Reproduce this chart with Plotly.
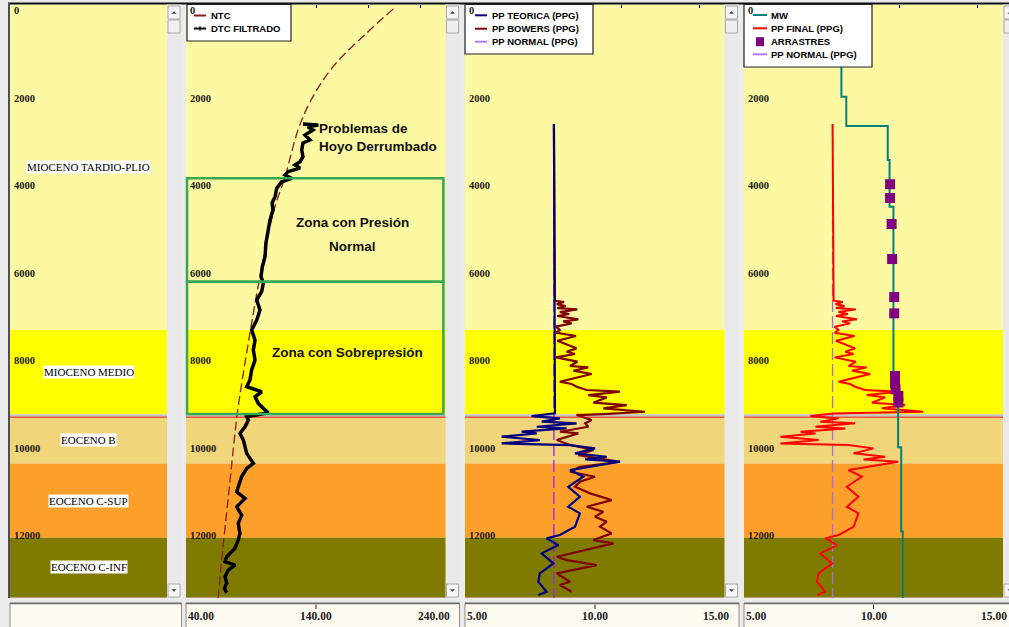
import plotly.graph_objects as go

W, H = 1009, 627

# ---------------- depth axis (ft) ----------------
depth_max = 13570
depth_ticks = [0, 2000, 4000, 6000, 8000, 10000, 12000]

# ---------------- formations ----------------
form_names = ["MIOCENO TARDIO-PLIO", "MIOCENO MEDIO", "", "EOCENO B", "EOCENO C-SUP", "EOCENO C-INF", ""]
form_top = [0, 7443, 9371, 9430, 10500, 12193, 13545]
form_base = [7443, 9371, 9430, 10500, 12193, 13545, 13570]
form_colors = ["#FDF9A3", "#FFFF00", "#C6C6C6", "#F0D57B", "#FDA02B", "#7F7B00", "#B79E70"]
contact_depth = 9440

# ---------------- track 2: sonic (us/ft) ----------------
ntc_depth = [100, 652, 1422, 2184, 2870, 3938, 4699, 6225, 7741, 9273, 9799, 11331, 12856, 13570]
ntc_dt = [199.5, 179.0, 153.1, 136.2, 126.2, 116.2, 107.7, 96.9, 87.9, 79.8, 77.7, 72.3, 66.9, 64.8]

dtc_depth = [2733, 2756, 2794, 2870, 2984, 3098, 3167, 3327, 3480, 3595, 3670, 3739, 3823, 3899,
             3974, 4052, 4203, 4395, 4539, 4699, 4928, 5157, 5454, 5767, 5996, 6224, 6368, 6567,
             6757, 6986, 7215, 7443, 7672, 7901, 8129, 8358, 8587, 8740, 8854, 8969, 9120, 9234,
             9334, 9426, 9501, 9655, 9805, 9959, 10112, 10263, 10377, 10492, 10606, 10798, 11027,
             11141, 11292, 11484, 11674, 11863, 12092, 12245, 12435, 12627, 12741, 12817, 12931,
             13085, 13236, 13350, 13450]
dtc_dt = [130.0, 141.8, 133.8, 137.7, 131.5, 135.4, 130.0, 129.0, 130.0, 127.7, 123.8, 127.7, 118.5,
          116.2, 121.3, 113.6, 109.8, 108.5, 106.2, 106.9, 104.6, 103.1, 101.5, 100.8, 98.7, 97.7,
          99.5, 98.2, 94.4, 96.9, 94.4, 90.5, 93.1, 91.8, 93.1, 90.5, 89.2, 86.7, 98.2, 93.1, 95.6,
          99.5, 103.3, 86.7, 88.0, 85.4, 81.5, 84.1, 85.4, 86.7, 89.2, 91.8, 86.7, 82.8, 80.2, 79.0,
          85.4, 79.0, 82.8, 80.2, 81.5, 80.2, 77.7, 71.3, 70.0, 77.7, 72.5, 70.0, 71.3, 69.5, 71.3]

zone_tops = [3974, 6339]
zone_bases = [6339, 9364]

# ---------------- track 3: pore pressure (ppg) ----------------
pp_normal = 8.42
pp_start = 2733

bowers_depth = [6773, 6803, 6849, 6894, 6940, 6971, 7032, 7077, 7123, 7199, 7245, 7291, 7367, 7443,
                7504, 7580, 7687, 7862, 7938, 7992, 8068, 8167, 8266, 8297, 8373, 8449, 8625, 8678,
                8739, 8815, 8853, 8930, 8983, 9105, 9158, 9234, 9311, 9364, 9387, 9502, 9577, 9654,
                9768, 9806, 9959, 10073, 10187, 10302, 10378, 10454, 10568, 10683, 10797, 10911,
                11026, 11178, 11331, 11483, 11597, 11712, 11826, 11941, 12093, 12245, 12322, 12626,
                12703, 12817, 13008, 13198, 13274, 13427]
bowers_ppg = [8.46, 8.81, 8.53, 8.88, 8.55, 9.32, 8.65, 9.01, 8.55, 9.36, 8.78, 9.10, 8.50, 8.65,
              8.50, 9.27, 8.55, 9.29, 8.91, 9.23, 8.50, 9.32, 9.04, 9.74, 9.17, 9.87, 8.65, 9.10,
              9.29, 9.68, 10.96, 9.74, 10.45, 9.94, 11.22, 10.32, 11.92, 10.32, 9.29, 9.87, 9.62,
              9.74, 8.65, 9.36, 8.53, 9.04, 9.94, 9.36, 10.19, 10.96, 9.42, 9.04, 10.00, 9.42, 9.23,
              9.81, 10.64, 9.68, 10.32, 10.00, 10.45, 10.19, 10.64, 9.94, 10.71, 8.53, 8.91, 10.06,
              8.53, 9.04, 8.65, 9.10]

teorica_depth = [9349, 9410, 9463, 9539, 9577, 9654, 9692, 9768, 9806, 9882, 9959, 10035, 10073,
                 10149, 10263, 10340, 10401, 10454, 10645, 10797, 11026, 11254, 11483, 11636, 11941,
                 12131, 12207, 12360, 12550, 12779, 13008, 13198, 13427, 13503]
teorica_ppg = [8.46, 7.56, 8.65, 7.95, 9.29, 7.76, 8.91, 7.18, 7.76, 6.41, 7.88, 6.41, 9.04, 10.00,
               9.23, 10.45, 9.62, 10.96, 9.04, 9.55, 8.97, 9.42, 8.97, 9.42, 9.23, 8.65, 8.14, 8.59,
               7.95, 8.40, 7.88, 7.82, 8.14, 7.82]

# ---------------- track 4: mud weight & drag events ----------------
mw_top = [0, 2108, 2778, 3556, 4624, 8815, 10125, 12050]
mw_ppg = [8.76, 8.95, 10.55, 10.62, 10.77, 10.95, 11.07, 11.13]
arr_depth = [4112, 4425, 5019, 5820, 6689, 7062, 8495, 8650, 8800, 8950, 9100]
arr_ppg = [10.64, 10.64, 10.70, 10.72, 10.80, 10.80, 10.83, 10.83, 10.85, 10.96, 10.96]

split_depth = 9340  # PP FINAL: Bowers above, theoretical below

# ---------------- layout helpers (pixel -> paper) ----------------
def X(px):
    return px / W


def Y(py):
    return 1 - py / H


TOP, BOT = 4.5, 598
panels = [(10, 167), (186, 446), (465, 725), (744, 1003)]
xranges = [[0, 1], [40, 240], [5, 15], [5, 15]]
top_ticks = [[], [60, 100, 140, 180, 220], [8, 11, 14], [8, 11, 14]]

SERIF = "Liberation Serif, Times New Roman, serif"
SANS = "Liberation Sans, Arial, sans-serif"

fig = go.Figure()

# ---- track 2 curves ----
fig.add_trace(go.Scatter(x=ntc_dt, y=ntc_depth, mode="lines", line_shape="spline",
                         line=dict(color="#8E1A1A", width=1.3, dash="9px,4px"),
                         xaxis="x2", yaxis="y2", showlegend=False))
fig.add_trace(go.Scatter(x=dtc_dt, y=dtc_depth, mode="lines",
                         line=dict(color="#000000", width=3.5),
                         xaxis="x2", yaxis="y2", showlegend=False))

# ---- track 3 curves ----
fig.add_trace(go.Scatter(x=[pp_normal, pp_normal], y=[pp_start, depth_max], mode="lines",
                         line=dict(color="#A020F0", width=1.3, dash="12px,4px"),
                         xaxis="x3", yaxis="y3", showlegend=False))
fig.add_trace(go.Scatter(x=[pp_normal] + bowers_ppg, y=[pp_start] + bowers_depth, mode="lines",
                         line=dict(color="#800000", width=2.2),
                         xaxis="x3", yaxis="y3", showlegend=False))
fig.add_trace(go.Scatter(x=[pp_normal] + teorica_ppg, y=[pp_start] + teorica_depth, mode="lines",
                         line=dict(color="#000080", width=2.2),
                         xaxis="x3", yaxis="y3", showlegend=False))

# ---- track 4 curves ----
final_depth = [pp_start] + [d for d in bowers_depth if d < split_depth] + \
              [d for d in teorica_depth if d >= split_depth]
final_ppg = [pp_normal] + [v for d, v in zip(bowers_depth, bowers_ppg) if d < split_depth] + \
            [v for d, v in zip(teorica_depth, teorica_ppg) if d >= split_depth]

fig.add_trace(go.Scatter(x=[pp_normal, pp_normal], y=[pp_start, depth_max], mode="lines",
                         line=dict(color="#A874C8", width=1.3, dash="12px,4px"),
                         xaxis="x4", yaxis="y4", showlegend=False))
fig.add_trace(go.Scatter(x=final_ppg, y=final_depth, mode="lines",
                         line=dict(color="#FF0000", width=2.0),
                         xaxis="x4", yaxis="y4", showlegend=False))

mw_x, mw_y = [], []
for i, v in enumerate(mw_ppg):
    base = mw_top[i + 1] if i + 1 < len(mw_top) else depth_max
    mw_x += [v, v]
    mw_y += [mw_top[i], base]
fig.add_trace(go.Scatter(x=mw_x, y=mw_y, mode="lines",
                         line=dict(color="#008080", width=2.0),
                         xaxis="x4", yaxis="y4", showlegend=False))
fig.add_trace(go.Scatter(x=arr_ppg, y=arr_depth, mode="markers",
                         marker=dict(symbol="square", size=10, color="#800080",
                                     line=dict(width=0)),
                         xaxis="x4", yaxis="y4", showlegend=False))

shapes = []
annotations = []

# ---- axes, formation bands, depth labels per track ----
layout_axes = {}
for k, ((x0, x1), xr, tt) in enumerate(zip(panels, xranges, top_ticks), start=1):
    sfx = "" if k == 1 else str(k)
    layout_axes["xaxis" + sfx] = dict(
        domain=[X(x0), X(x1)], range=xr, anchor="y" + sfx, side="top",
        showgrid=False, zeroline=False, showline=False, showticklabels=False,
        ticks="inside" if tt else "", tickvals=tt, ticklen=3, tickcolor="#000", fixedrange=True)
    layout_axes["yaxis" + sfx] = dict(
        domain=[Y(BOT), Y(TOP)], range=[depth_max, 0], anchor="x" + sfx,
        visible=False, fixedrange=True)

    xd = "x" + sfx + " domain"
    yr = "y" + sfx
    for t, b, c in zip(form_top, form_base, form_colors):
        shapes.append(dict(type="rect", xref=xd, yref=yr, x0=0, x1=1, y0=t, y1=b,
                           fillcolor=c, line=dict(width=0), layer="below"))
    shapes.append(dict(type="line", xref=xd, yref=yr, x0=0, x1=1, y0=contact_depth,
                       y1=contact_depth, line=dict(color="#F05A3A", width=1.5), layer="below"))
    for d in depth_ticks:
        annotations.append(dict(xref=xd, yref=yr, x=0, y=d, xanchor="left", yanchor="top",
                                xshift=2, yshift=1, showarrow=False, text=str(d),
                                font=dict(family=SERIF, size=10.5, color="#1A1A1A",
                                          weight="bold")))

# formation names in track 1
for name, t, b in zip(form_names, form_top, form_base):
    if name:
        annotations.append(dict(xref="x domain", yref="y", x=0.5, y=(t + b) / 2,
                                showarrow=False, text=name, bgcolor="#FFFFFF", borderpad=0,
                                font=dict(family=SERIF, size=11, color="#000000")))

# ---- pressure zones in track 2 ----
for t, b in zip(zone_tops, zone_bases):
    shapes.append(dict(type="rect", xref="x2 domain", yref="y2", x0=0.004, x1=0.99, y0=t, y1=b,
                       line=dict(color="#36A852", width=2.5), fillcolor="rgba(0,0,0,0)",
                       layer="above"))

note_font = dict(family=SANS, size=13.5, color="#111111", weight="bold")
annotations += [
    dict(xref="x2", yref="y2", x=140.5, y=3050, xanchor="left", showarrow=False, align="left",
         text="Problemas de<br>Hoyo Derrumbado", font=note_font),
    dict(xref="x2", yref="y2", x=168, y=4980, showarrow=False, text="Zona con Presión",
         font=note_font),
    dict(xref="x2", yref="y2", x=168, y=5540, showarrow=False, text="Normal", font=note_font),
    dict(xref="x2", yref="y2", x=164, y=7960, showarrow=False, text="Zona con Sobrepresión",
         font=note_font),
]

# ---- frame: top border, scrollbars, bottom scale boxes ----
shapes.append(dict(type="line", xref="paper", yref="paper", x0=X(8), x1=1, y0=Y(3.5), y1=Y(3.5),
                   line=dict(color="#101010", width=2), layer="above"))
shapes.append(dict(type="line", xref="paper", yref="paper", x0=X(9), x1=X(9), y0=Y(3), y1=Y(BOT),
                   line=dict(color="#505050", width=2), layer="above"))

def rect(x0, y0, x1, y1, fill, line="#A8A8A8", lw=1):
    shapes.append(dict(type="rect", xref="paper", yref="paper", x0=X(x0), x1=X(x1),
                       y0=Y(y1), y1=Y(y0), fillcolor=fill,
                       line=dict(color=line, width=lw) if lw else dict(width=0), layer="above"))

def tri(cx, cy, up):
    s = 2.5
    if up:
        pts = [(cx - s, cy + 1.2), (cx + s, cy + 1.2), (cx, cy - 1.3)]
    else:
        pts = [(cx - s, cy - 1.2), (cx + s, cy - 1.2), (cx, cy + 1.3)]
    path = "M " + " L ".join(f"{X(a):.5f},{Y(b):.5f}" for a, b in pts) + " Z"
    shapes.append(dict(type="path", xref="paper", yref="paper", path=path,
                       fillcolor="#404040", line=dict(width=0), layer="above"))

for sx in [167, 445.5, 724.5, 1003]:
    rect(sx, TOP, sx + 14, BOT, "#E9E9E9", lw=0)
    rect(sx + 1, 6, sx + 13, 19, "#F5F5F5")
    rect(sx + 1, 20, sx + 13, 33, "#F0F0F0")
    rect(sx + 1, 584, sx + 13, 597, "#F5F5F5")
    tri(sx + 7, 12.5, True)
    tri(sx + 7, 590.5, False)

# bottom scale boxes
for bx0, bx1 in [(10, 181.5), (186, 459.5), (465, 739), (744, 1010)]:
    rect(bx0, 603, bx1, 628, "#FFFAF0", line="#8C8C8C", lw=1)
    shapes.append(dict(type="line", xref="paper", yref="paper", x0=X(bx0), x1=X(bx1),
                       y0=Y(603.5), y1=Y(603.5), line=dict(color="#6E6E6E", width=1.5),
                       layer="above"))

scale_font = dict(family=SERIF, size=11.5, color="#1A1A1A", weight="bold")
scale_labels = [("x2", [40, 140, 240], ["40.00", "140.00", "240.00"]),
                ("x3", [5, 10, 15], ["5.00", "10.00", "15.00"]),
                ("x4", [5, 10, 15], ["5.00", "10.00", "15.00"])]
for xr, vals, texts in scale_labels:
    for j, (v, t) in enumerate(zip(vals, texts)):
        anchor = ["left", "center", "right"][j]
        shift = [0, 0, 6][j]
        annotations.append(dict(xref=xr, yref="paper", x=v, y=Y(616), xanchor=anchor,
                                yanchor="middle", xshift=shift, showarrow=False, text=t,
                                font=scale_font))
    shapes.append(dict(type="line", xref=xr, yref="paper", x0=vals[1], x1=vals[1],
                       y0=Y(604.5), y1=Y(609), line=dict(color="#222", width=1),
                       layer="above"))

# ---- legends ----
leg_font = dict(family=SANS, size=9.5, color="#000000", weight="bold")

def legend_box(x0, x1, y1, rows, lx0, lx1, tx):
    rect(x0, 4.5, x1, y1, "#FFFFFF", line="#222222", lw=1.2)
    for (yy, label, color, kind) in rows:
        if kind == "square":
            rect(lx0 + 3, yy - 4.5, lx0 + 11, yy + 4.5, color, lw=0)
        else:
            shapes.append(dict(type="line", xref="paper", yref="paper", x0=X(lx0), x1=X(lx1),
                               y0=Y(yy), y1=Y(yy), line=dict(color=color, width=2),
                               layer="above"))
            if kind == "tick":
                cx = (lx0 + lx1) / 2
                shapes.append(dict(type="line", xref="paper", yref="paper", x0=X(cx), x1=X(cx),
                                   y0=Y(yy - 2.5), y1=Y(yy + 2.5),
                                   line=dict(color=color, width=1), layer="above"))
        annotations.append(dict(xref="paper", yref="paper", x=X(tx), y=Y(yy), xanchor="left",
                                yanchor="middle", showarrow=False, text=label, font=leg_font))

legend_box(187, 291, 41, [(15.5, "NTC", "#8E1A1A", "line"),
                          (28.5, "DTC FILTRADO", "#000000", "tick")], 194, 206, 209)
legend_box(465, 593, 54, [(15.3, "PP TEORICA (PPG)", "#000080", "line"),
                          (28.7, "PP BOWERS (PPG)", "#800000", "line"),
                          (41.7, "PP NORMAL (PPG)", "#B57BFF", "line")], 475, 487, 490)
legend_box(744, 872, 67, [(15, "MW", "#008080", "line"),
                          (28.3, "PP FINAL (PPG)", "#FF0000", "line"),
                          (41.7, "ARRASTRES", "#800080", "square"),
                          (54.3, "PP NORMAL (PPG)", "#B57BFF", "line")], 753, 767, 769)

# depth labels must sit above legend boxes: move the "0" labels to the end
zero_labels = [a for a in annotations if a.get("text") == "0"]
annotations = [a for a in annotations if a.get("text") != "0"] + zero_labels

fig.update_layout(
    width=W, height=H, margin=dict(l=0, r=0, t=0, b=0),
    paper_bgcolor="#EBEBEB", plot_bgcolor="rgba(0,0,0,0)",
    showlegend=False, shapes=shapes, annotations=annotations, **layout_axes)

fig.write_html("out.html")
